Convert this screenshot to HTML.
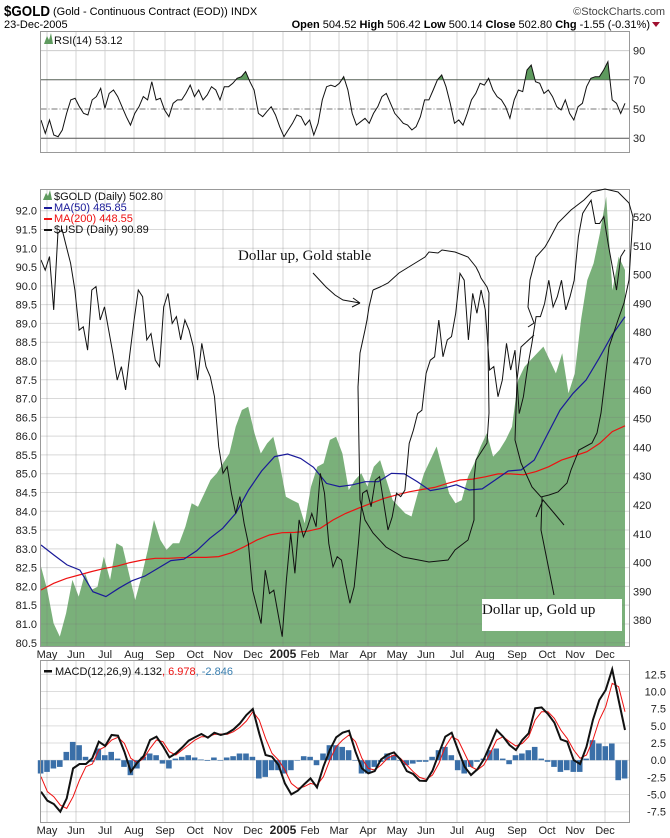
<!DOCTYPE html>
<html><head><meta charset="utf-8"><style>
body{margin:0;background:#fff;}
svg{display:block;font-family:"Liberation Sans",sans-serif;}
</style></head><body>
<svg id="chart" width="670" height="838" viewBox="0 0 670 838">
<g id="hdr">
<text x="4" y="16" font-size="15" font-weight="bold" textLength="46" lengthAdjust="spacingAndGlyphs">$GOLD</text>
<text x="53" y="15" font-size="11">(Gold - Continuous Contract (EOD)) INDX</text>
<text x="4" y="28" font-size="11">23-Dec-2005</text>
<text x="665" y="15" font-size="11" text-anchor="end" fill="#444">©StockCharts.com</text>
<text x="650" y="28" font-size="11" text-anchor="end"><tspan font-weight="bold">Open</tspan> 504.52 <tspan font-weight="bold">High</tspan> 506.42 <tspan font-weight="bold">Low</tspan> 500.14 <tspan font-weight="bold">Close</tspan> 502.80 <tspan font-weight="bold">Chg</tspan> -1.55 (-0.31%)</text>
<polygon points="652,22 660,22 656,27" fill="#a01030"/>
</g>
<g id="rsi"></g>
<g id="main"></g>
<g id="macd"></g>
</svg>
<script>
const months=["May","Jun","Jul","Aug","Sep","Oct","Nov","Dec","2005","Feb","Mar","Apr","May","Jun","Jul","Aug","Sep","Oct","Nov","Dec"];
const monthX=[47,76,105,134,165,195,223,253,283,310,339,368,397,426,457,485,517,547,575,605];
const rsiTicks=[90,70,50,30];
const usdTicks=[92.0,91.5,91.0,90.5,90.0,89.5,89.0,88.5,88.0,87.5,87.0,86.5,86.0,85.5,85.0,84.5,84.0,83.5,83.0,82.5,82.0,81.5,81.0,80.5];
const goldTicks=[520,510,500,490,480,470,460,450,440,430,420,410,400,390,380];
const macdTicks=[12.5,10.0,7.5,5.0,2.5,0.0,-2.5,-5.0,-7.5];
const rsi=[42.5,33.3,42.5,32.2,31.0,35.6,47.0,56.2,57.3,51.6,47.0,45.9,56.2,58.5,64.2,50.5,60.7,63.0,58.5,51.6,44.7,39.0,47.0,51.6,58.5,56.2,68.7,56.2,57.3,49.3,44.7,53.9,56.2,56.2,60.7,66.4,58.5,63.0,56.2,59.6,65.3,63.0,56.2,65.3,65.3,67.6,71.0,72.1,75.6,68.7,63.0,47.0,44.7,48.2,51.6,45.9,37.9,31.0,35.6,40.2,45.9,44.7,39.0,42.5,32.2,40.2,56.2,65.3,66.4,65.3,67.6,72.1,63.0,47.0,39.0,41.3,43.6,40.2,47.0,51.6,58.5,60.7,53.9,47.0,43.6,40.2,39.0,35.6,37.9,44.7,56.2,56.2,63.0,69.9,73.3,65.3,53.9,40.2,42.5,39.0,47.0,56.2,60.7,67.6,66.4,71.0,63.0,58.5,56.2,51.6,43.6,56.2,63.0,61.9,76.7,80.1,68.7,67.6,60.7,63.0,58.5,51.6,49.3,56.2,47.0,42.5,51.6,53.9,65.3,71.0,72.1,72.1,76.7,82.4,56.2,53.9,47.0,53.9];
const gold=[398.6,390.5,378.9,374.3,382.4,394.0,388.2,396.3,390.5,391.6,402.1,394.0,406.7,405.5,396.3,387.0,395.1,404.4,414.8,407.9,404.4,406.7,406.7,412.5,420.6,419.4,424.0,428.7,431.0,434.5,437.9,447.2,453.0,454.1,444.9,437.9,441.4,443.7,434.5,422.9,421.7,420.6,413.6,426.4,433.3,434.5,442.6,443.7,437.9,425.2,428.7,431.0,426.4,433.3,435.6,428.7,421.7,419.4,417.1,416.0,424.0,431.0,435.6,440.3,432.1,424.0,420.6,421.7,429.8,434.5,440.3,444.9,436.8,439.1,442.6,447.2,463.4,468.0,470.4,472.7,475.0,470.4,465.7,472.7,458.8,465.7,484.2,498.1,503.9,514.3,527.1,494.6,506.2,501.6];
const usd=[90.69,90.42,90.78,89.36,91.40,91.49,91.04,90.60,89.89,88.82,88.91,88.29,89.89,89.98,89.09,89.44,88.82,88.20,87.49,87.85,87.23,88.20,89.09,89.89,89.71,88.56,88.73,88.02,87.85,89.44,89.80,89.00,89.18,88.56,89.09,88.82,88.38,87.49,88.47,87.85,87.58,87.05,85.72,85.01,85.19,84.48,83.94,84.39,83.68,83.14,81.90,81.46,81.01,82.43,81.81,81.90,81.28,80.66,82.17,83.41,82.35,83.77,83.32,83.59,83.94,83.59,85.01,84.48,83.14,82.52,82.79,82.70,82.08,81.55,81.99,83.14,84.48,84.56,84.12,84.83,84.92,84.21,83.50,83.85,84.48,84.39,84.56,85.81,86.16,86.60,86.69,87.67,88.02,88.11,89.09,88.11,88.56,88.65,89.27,90.33,90.15,88.56,89.80,89.27,89.89,89.36,87.76,87.85,87.05,87.49,88.47,87.76,88.29,86.60,87.05,87.85,88.47,89.18,89.18,89.53,90.15,89.44,89.71,90.15,89.36,89.71,90.15,91.31,91.93,92.11,92.28,91.66,91.66,91.84,91.13,90.51,89.89,90.78,90.96];
const ma50=[406.1,402.6,399.2,397.4,389.9,388.2,391.1,393.7,395.3,398.0,400.7,401.2,404.1,408.4,411.9,417.1,425.2,431.8,436.8,437.7,436.2,433.1,427.5,426.4,427.0,428.1,428.1,431.0,430.8,428.1,425.0,425.8,427.0,425.2,425.6,428.7,431.8,432.2,435.6,444.3,453.0,458.8,463.4,470.9,479.0,485.4];
const ma200=[390.5,392.8,394.5,395.7,396.9,398.0,398.8,400.0,400.9,401.5,401.5,401.7,401.8,401.8,402.1,403.4,405.5,407.8,409.6,410.4,410.5,410.9,411.9,414.8,417.1,418.9,420.6,422.3,423.5,424.6,425.4,426.1,427.5,428.7,429.0,429.8,430.8,430.8,430.5,431.6,433.3,435.6,437.0,438.5,441.4,445.5,447.5];
const macdLine=[-4.59,-5.90,-6.38,-7.50,-5.56,-1.19,-0.56,-0.56,0.27,2.69,2.06,3.67,3.57,1.24,-1.67,-0.36,0.61,2.94,3.42,2.06,0.41,0.99,1.87,2.84,3.33,3.81,3.28,4.00,3.67,3.91,4.49,5.36,6.58,7.45,3.91,0.75,0.51,-0.70,-3.37,-4.98,-4.44,-3.52,-2.65,-3.96,-0.95,1.48,3.33,4.00,4.30,1.24,-1.19,-1.92,-1.58,0.12,0.80,1.14,0.12,-1.58,-2.01,-2.99,-3.03,-1.53,0.99,3.42,4.00,1.48,-0.95,-2.16,-1.33,0.12,2.21,4.39,3.42,2.21,1.48,2.94,3.91,7.55,7.69,6.72,5.46,3.03,2.69,0.02,-0.56,1.97,5.85,8.76,10.22,13.23,8.76,4.39];
const signalLine=[-2.40,-4.59,-5.32,-6.53,-7.01,-5.32,-2.89,-0.95,-0.56,1.48,1.97,2.94,3.33,2.45,0.27,-0.36,0.27,1.72,2.94,2.69,1.24,0.75,1.48,2.21,2.94,3.42,3.42,3.76,3.81,3.76,4.15,4.78,5.70,7.06,5.85,3.18,0.99,0.02,-1.43,-3.37,-4.10,-3.86,-3.37,-3.62,-2.40,0.02,1.97,2.94,3.67,2.69,0.27,-1.19,-1.43,-0.70,0.27,0.75,0.27,-0.70,-1.67,-2.50,-2.79,-2.16,-0.46,1.97,3.42,2.94,0.99,-0.95,-1.43,-0.70,0.99,2.94,3.42,2.69,2.06,2.45,3.42,5.85,7.06,7.06,6.09,4.39,3.18,1.48,0.27,0.75,2.94,5.85,7.79,11.19,10.70,7.06];
const histogram=[-1.94,-1.70,-1.21,-0.97,1.21,2.67,2.18,0.49,-0.24,1.70,0.73,1.21,0.24,-0.97,-2.18,-1.21,0.49,0.97,0.73,-0.49,-1.21,0.24,0.49,0.73,0.39,0.10,-0.10,0.39,0.00,0.39,0.58,0.97,0.97,0.49,-2.67,-2.43,-1.46,-1.46,-1.94,-1.46,0.00,0.58,0.49,-0.73,0.97,2.18,2.18,1.94,1.46,0.00,-1.94,-1.94,-0.97,-0.24,0.97,0.73,0.00,-0.73,-0.49,-0.24,-0.24,0.49,1.46,1.94,0.73,-1.46,-1.94,-0.97,-0.24,0.24,1.46,1.70,0.24,-0.58,0.73,0.97,1.46,1.94,0.24,-0.24,-0.97,-1.70,-1.46,-1.70,-1.70,0.24,2.91,2.43,2.04,2.43,-2.91,-2.67];

const NS="http://www.w3.org/2000/svg";
const X0=41,X1=625,PL=40.5,PR=629.5;
function mk(tag,attrs,parent){const e=document.createElementNS(NS,tag);for(const k in attrs)e.setAttribute(k,attrs[k]);parent.appendChild(e);return e;}
function xAt(i,n){return X0+i*(X1-X0)/(n-1);}
function pts(arr,yf){return arr.map((v,i)=>xAt(i,arr.length).toFixed(1)+","+yf(v).toFixed(1)).join(" ");}
const yRsi=v=>109-(v-50)*1.46;
const yUsd=v=>210.7+(92-v)*37.57;
const yGold=v=>180+(532.85-v)*2.88;
const yMacd=v=>760.2-v*6.87;

function vgrid(g,top,bot){monthX.forEach(x=>{const l=mk('line',{x1:x,x2:x,y1:top,y2:bot,stroke:'rgba(120,120,120,0.3)','stroke-width':1},g);

});}
function xlabels(g,y){months.forEach((m,i)=>{const t=mk('text',{x:monthX[i],y:y,'font-size':m==="2005"?12:11,'font-weight':m==="2005"?'bold':'normal','text-anchor':'middle',fill:'#222'},g);t.textContent=m;

});}

// RSI panel
(function(){const g=document.getElementById('rsi');
vgrid(g,31,152);
[90].forEach(v=>{const l=mk('line',{x1:PL,x2:PR,y1:yRsi(v),y2:yRsi(v),stroke:'#ccc'},g);});
[70,30].forEach(v=>{const l=mk('line',{x1:PL,x2:PR,y1:yRsi(v),y2:yRsi(v),stroke:'#555'},g);});
const mid=mk('line',{x1:PL,x2:PR,y1:yRsi(50),y2:yRsi(50),stroke:'#777','stroke-dasharray':'6,2,1,2'},g);
const cp=mk('clipPath',{id:'above70'},g);mk('rect',{x:PL,y:31,width:PR-PL,height:yRsi(70)-31},cp);
const area=mk('polygon',{points:X0+","+yRsi(70)+" "+pts(rsi,yRsi)+" "+X1+","+yRsi(70),fill:'#5e9a5e','clip-path':'url(#above70)'},g);

const ln=mk('polyline',{points:pts(rsi,yRsi),fill:'none',stroke:'#111','stroke-width':1},g);

const b=mk('rect',{x:PL,y:31.5,width:PR-PL,height:121,fill:'none',stroke:'#999'},g);
rsiTicks.forEach(v=>{const t=mk('text',{x:633,y:yRsi(v)+4,'font-size':11,fill:'#222'},g);t.textContent=v;});
mk('polygon',{points:'44,44 47,36 49,40 51,33 53,44',fill:'#5e9a5e'},g);
const lt=mk('text',{x:54,y:44,'font-size':11,fill:'#111'},g);lt.textContent='RSI(14) 53.12';
})();

// Main panel
(function(){const g=document.getElementById('main');
const TOP=189,BOT=646;
const fill=mk('polygon',{points:X0+","+BOT+" "+pts(gold,yGold)+" "+X1+","+BOT,fill:'#7ab07a'},g);

usdTicks.forEach(v=>{const l=mk('line',{x1:PL,x2:PR,y1:yUsd(v),y2:yUsd(v),stroke:'rgba(120,120,120,0.28)'},g);});
vgrid(g,TOP,BOT);
const m200=mk('polyline',{points:pts(ma200,yGold),fill:'none',stroke:'#ee1111','stroke-width':1.2},g);
const m50=mk('polyline',{points:pts(ma50,yGold),fill:'none',stroke:'#1a1a99','stroke-width':1.2},g);
const u=mk('polyline',{points:pts(usd,yUsd),fill:'none',stroke:'#111','stroke-width':1},g);
const b=mk('rect',{x:PL,y:TOP+0.5,width:PR-PL,height:BOT-TOP,fill:'none',stroke:'#999'},g);
usdTicks.forEach(v=>{const t=mk('text',{x:37,y:yUsd(v)+4,'font-size':11,'text-anchor':'end',fill:'#222'},g);t.textContent=v.toFixed(1);});
goldTicks.forEach(v=>{const t=mk('text',{x:633,y:yGold(v)+4,'font-size':11,fill:'#222'},g);t.textContent=v;});
const ann=[
 {n:'gold-stable-loop',p:'373,290 380,287 388,283 399,273 412,265 425,257 429,252 438,253 442,250 455,252 468,257 476,267 479,273 481,278 487,287 489,293 488,347 489,413 487,443 476,460 474,480 474,520 468,540 455,550 448,560 429,562 403,557 386,547 373,533 365,520 360,500 359,447 358,387 360,353 365,330 367,320 369,307 373,290'},
 {n:'gold-stable-arrow',p:'313,273 326,287 335,295 343,300 360,303 353,298 M360,303 352,307'},
 {n:'gold-up-loop',p:'528,327 534,323 528,307 530,280 536,257 545,247 549,240 558,223 571,210 584,200 592,192 605,189 618,192 629,203 633,217 631,247 629,280 624,303 618,320 609,347 605,380 601,413 597,433 592,443 579,450 571,470 567,483 558,492 549,495 541,497 532,487 521,463 515,440 517,380 521,347 534,335'},
 {n:'gold-up-arrow',p:'554,595 547,560 541,530 542,497 M536,517 543,500 554,513 564,525'}];
ann.forEach(a=>{const d='M'+a.p.replace(/ (?=\d)/g,' L').replace(/ LM/g,' M');const e=mk('path',{d:d,fill:'none',stroke:'#111','stroke-width':1},g);});
const t1=mk('text',{x:238,y:260,'font-size':15,'font-family':'Liberation Serif, serif',fill:'#111'},g);t1.textContent='Dollar up, Gold stable';
const box=mk('rect',{x:482,y:599,width:140,height:32,fill:'#fff'},g);
const t2=mk('text',{x:482,y:614,'font-size':15,'font-family':'Liberation Serif, serif',fill:'#111'},g);t2.textContent='Dollar up, Gold up';
mk('polygon',{points:'43,200 46,193 48,196 50,190 52,200',fill:'#5e9a5e'},g);
const lg=[['$GOLD (Daily) 502.80','#111',null],['MA(50) 485.85','#1a1a99','#1a1a99'],['MA(200) 448.55','#ee1111','#ee1111'],['$USD (Daily) 90.89','#111','#111']];
lg.forEach((r,i)=>{const y=200+i*11;if(r[2])mk('rect',{x:44,y:y-4,width:8,height:2,fill:r[2]},g);const t=mk('text',{x:54,y:y,'font-size':11,fill:r[1]},g);t.textContent=r[0];});
xlabels(g,658);
})();

// MACD panel
(function(){const g=document.getElementById('macd');
const TOP=660,BOT=822;
macdTicks.forEach(v=>{const l=mk('line',{x1:PL,x2:PR,y1:yMacd(v),y2:yMacd(v),stroke:'#ddd'},g);});
vgrid(g,TOP,BOT);
const n=histogram.length,w=(X1-X0)/(n-1);
histogram.forEach((v,i)=>{const x=xAt(i,n)-w/2,y0=yMacd(0),y1=yMacd(v);const r=mk('rect',{x:x.toFixed(1),y:Math.min(y0,y1).toFixed(1),width:(w-0.8).toFixed(1),height:Math.max(0.5,Math.abs(y1-y0)).toFixed(1),fill:'#3a6fa8'},g);

});
const s=mk('polyline',{points:pts(signalLine,yMacd),fill:'none',stroke:'#ee1111','stroke-width':1},g);
const m=mk('polyline',{points:pts(macdLine,yMacd),fill:'none',stroke:'#111','stroke-width':2},g);
const b=mk('rect',{x:PL,y:TOP+0.5,width:PR-PL,height:BOT-TOP,fill:'none',stroke:'#999'},g);
macdTicks.forEach(v=>{const t=mk('text',{x:666,y:yMacd(v)+4,'font-size':11,'text-anchor':'end',fill:'#222'},g);t.textContent=v.toFixed(1);});
mk('rect',{x:44,y:670,width:8,height:2.5,fill:'#111'},g);
const t=mk('text',{x:55,y:675,'font-size':11,fill:'#111'},g);
t.innerHTML='MACD(12,26,9) 4.132<tspan fill="#ee1111">, 6.978</tspan><tspan fill="#3a7fb0">, -2.846</tspan>';
xlabels(g,834);
})();
</script>
</body></html>
